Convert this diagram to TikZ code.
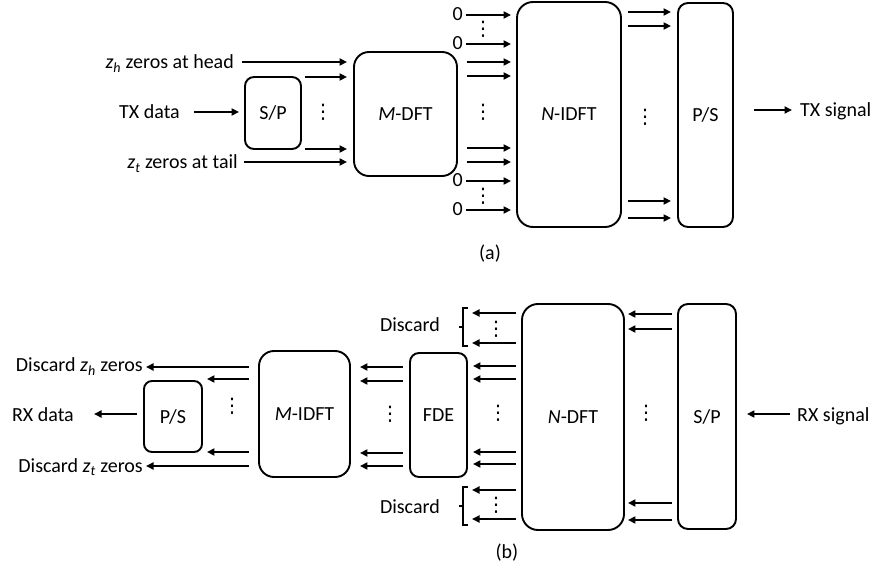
\documentclass[tikz,border=0pt]{standalone}
\usepackage{fontspec}
\setmainfont{Carlito}
\newfontfamily\dvs{DejaVu Sans}
\usetikzlibrary{arrows.meta,calc}
\begin{document}
\begin{tikzpicture}[x=1pt,y=-1pt,
  blk/.style={draw,line width=1.9pt,inner sep=0pt,font=\fontsize{20}{24}\selectfont},
  lbl/.style={inner sep=0pt,font=\fontsize{20}{24}\selectfont},
  dt/.style={inner sep=0pt,font=\dvs\fontsize{20}{22}\selectfont},
  arr/.style={line width=1.8pt,-{Triangle[length=7.5pt,width=7pt]}},
  brk/.style={line width=1.6pt},
]
\useasboundingbox (0,0) rectangle (876,569);

% ---------------- (a) ----------------
\node[blk,rounded corners=9pt,minimum width=56pt,minimum height=72pt] (sp1) at (273,113) {S/P};
\node[blk,rounded corners=15pt,minimum width=103pt,minimum height=124pt] (mdft) at (405.5,114) {\textit{M}-DFT};
\node[blk,rounded corners=16pt,minimum width=104pt,minimum height=225pt] (nidft) at (569,114.5) {\textit{N}-IDFT};
\node[blk,rounded corners=10pt,minimum width=55pt,minimum height=224pt] (ps1) at (705.5,115) {P/S};

\node[lbl,anchor=base east] (zh) at (234,69) {\textit{z}\textsubscript{\textit{h}} zeros at head};
\node[lbl,anchor=base east] (txd) at (180,119) {TX data};
\node[lbl,anchor=base east] (zt) at (238,169) {\textit{z}\textsubscript{\textit{t}} zeros at tail};
\node[lbl,anchor=base west] (txs) at (800,117) {TX signal};

\node[lbl,anchor=base east] (z1) at (463,21) {0};
\node[lbl,anchor=base east] (z2) at (463,50) {0};
\node[lbl,anchor=base east] (z3) at (463,187) {0};
\node[lbl,anchor=base east] (z4) at (463,216) {0};

\node[dt] (da1) at (323,112) {⋮};
\node[dt] (da2) at (483,29) {⋮};
\node[dt] (da3) at (483,112) {⋮};
\node[dt] (da4) at (483,196) {⋮};
\node[dt] (da5) at (645,117) {⋮};

\draw[arr] ($(zh.east|-0,62)+(8,0)$) -- ($(mdft.west|-0,62)+(-6,0)$);
\draw[arr] ($(txd.east|-0,112)+(14,0)$) -- ($(sp1.west|-0,112)+(-5,0)$);
\draw[arr] ($(zt.east|-0,162)+(6,0)$) -- ($(mdft.west|-0,162)+(-6,0)$);
\foreach \yy in {77,149}
  \draw[arr] ($(sp1.east|-0,\yy)+(3,0)$) -- ($(mdft.west|-0,\yy)+(-6,0)$);
\foreach \yy in {62,76,148,162}
  \draw[arr] ($(mdft.east|-0,\yy)+(9,0)$) -- ($(nidft.west|-0,\yy)+(-5,0)$);
\draw[arr] ($(z1.east|-0,15)+(3,0)$) -- ($(nidft.west|-0,15)+(-5,0)$);
\draw[arr] ($(z2.east|-0,44)+(3,0)$) -- ($(nidft.west|-0,44)+(-5,0)$);
\draw[arr] ($(z3.east|-0,181)+(3,0)$) -- ($(nidft.west|-0,181)+(-5,0)$);
\draw[arr] ($(z4.east|-0,210)+(3,0)$) -- ($(nidft.west|-0,210)+(-5,0)$);
\foreach \yy in {12,26,201,218}
  \draw[arr] ($(nidft.east|-0,\yy)+(6,0)$) -- ($(ps1.west|-0,\yy)+(-6,0)$);
\draw[arr] ($(ps1.east|-0,110)+(20,0)$) -- ($(txs.west|-0,110)+(-8,0)$);

\node[lbl] (la) at (490,254) {(a)};

% ---------------- (b) ----------------
\node[blk,rounded corners=8pt,minimum width=58pt,minimum height=71pt] (ps2) at (173,416.5) {P/S};
\node[blk,rounded corners=15pt,minimum width=91pt,minimum height=126pt] (midft) at (304.5,414) {\textit{M}-IDFT};
\node[blk,rounded corners=9pt,minimum width=57pt,minimum height=124pt] (fde) at (438.5,415) {FDE};
\node[blk,rounded corners=16pt,minimum width=102pt,minimum height=226pt] (ndft) at (573,417) {\textit{N}-DFT};
\node[blk,rounded corners=10pt,minimum width=58pt,minimum height=225pt] (sp2) at (707,416.5) {S/P};

\node[lbl,anchor=base east] (dzh) at (143,372) {Discard \textit{z}\textsubscript{\textit{h}} zeros};
\node[lbl,anchor=base east] (rxd) at (74,421) {RX data};
\node[lbl,anchor=base east] (dzt) at (143,472) {Discard \textit{z}\textsubscript{\textit{t}} zeros};
\node[lbl,anchor=base east] (dtop) at (440,332) {Discard};
\node[lbl,anchor=base east] (dbot) at (440,513) {Discard};
\node[lbl,anchor=base west] (rxs) at (797,421) {RX signal};

\node[dt] (db1) at (232,406) {⋮};
\node[dt] (db2) at (390,414) {⋮};
\node[dt] (db3) at (498,413) {⋮};
\node[dt] (db4) at (496,329) {⋮};
\node[dt] (db5) at (496,505) {⋮};
\node[dt] (db6) at (646,413) {⋮};

\coordinate (bt) at (463,327);
\coordinate (bb) at (463,506);
\draw[brk] ($(bt)+(5,-19)$) -- ($(bt)+(0,-19)$) -- ($(bt)+(0,19)$) -- ($(bt)+(5,19)$);
\draw[brk] (bt) -- ++(-4,0);
\draw[brk] ($(bb)+(5,-19)$) -- ($(bb)+(0,-19)$) -- ($(bb)+(0,19)$) -- ($(bb)+(5,19)$);
\draw[brk] (bb) -- ++(-4,0);

\draw[arr] ($(midft.west|-0,367)+(-9,0)$) -- ($(dzh.east|-0,367)+(3,0)$);
\draw[arr] ($(ps2.west|-0,414)+(-6,0)$) -- ($(rxd.east|-0,414)+(20,0)$);
\draw[arr] ($(midft.west|-0,466)+(-9,0)$) -- ($(dzt.east|-0,466)+(3,0)$);
\foreach \yy in {379,452}
  \draw[arr] ($(midft.west|-0,\yy)+(-9,0)$) -- ($(ps2.east|-0,\yy)+(4,0)$);
\foreach \yy in {367,381,453,466}
  \draw[arr] ($(fde.west|-0,\yy)+(-6,0)$) -- ($(midft.east|-0,\yy)+(9,0)$);
\foreach \yy in {366,379,452,464}
  \draw[arr] ($(ndft.west|-0,\yy)+(-5,0)$) -- ($(fde.east|-0,\yy)+(5,0)$);
\foreach \yy in {313,343}
  \draw[arr] ($(ndft.west|-0,\yy)+(-5,0)$) -- ($(bt|-0,\yy)+(9,0)$);
\foreach \yy in {490,519}
  \draw[arr] ($(ndft.west|-0,\yy)+(-5,0)$) -- ($(bb|-0,\yy)+(9,0)$);
\foreach \yy in {314,329,503,520}
  \draw[arr] ($(sp2.west|-0,\yy)+(-5,0)$) -- ($(ndft.east|-0,\yy)+(3,0)$);
\draw[arr] ($(rxs.west|-0,414)+(-7,0)$) -- ($(sp2.east|-0,414)+(10,0)$);

\node[lbl] (lb) at (507,553) {(b)};
\end{tikzpicture}
\end{document}
